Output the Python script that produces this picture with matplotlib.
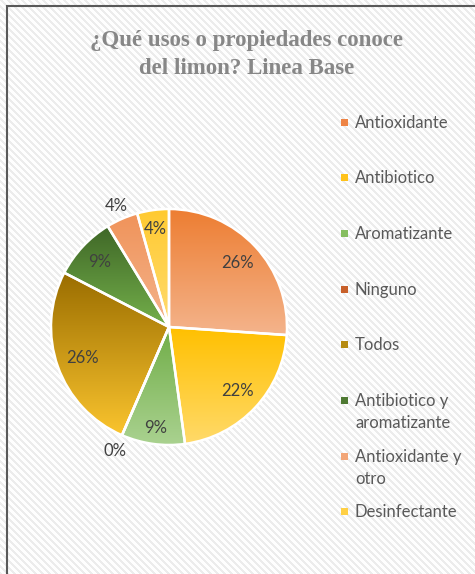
import numpy as np
import matplotlib
matplotlib.use("Agg")
import matplotlib.pyplot as plt
from matplotlib.colors import LinearSegmentedColormap
from matplotlib.patches import Rectangle

# ---------------- data ----------------
title_lines = ["¿Qué usos o propiedades conoce", "del limon? Linea Base"]
categories = ["Antioxidante", "Antibiotico", "Aromatizante", "Ninguno", "Todos",
              "Antibiotico y\naromatizante", "Antioxidante y\notro", "Desinfectante"]
counts = [6, 5, 2, 0, 6, 2, 1, 1]

# ---------------- style ----------------
grad_top = ["#ED7D31", "#FFC000", "#70AD47", "#C55A11", "#9A6D00", "#3F6727", "#F0935A", "#FFCA30"]
grad_bottom = ["#F4B48C", "#FFDA6A", "#AAD290", "#E59A66", "#FAC42E", "#74B04B", "#F4B48C", "#FFDB70"]
legend_colors = ["#EE8445", "#FFC21A", "#86BE60", "#C8602A", "#B58A10", "#4F7A33", "#F2A577", "#FFD045"]
label_r = [0.79, 0.80, 0.86, 1.15, 0.78, 0.81, 1.12, 0.84]

W, H = 475, 574
fig = plt.figure(figsize=(W / 100, H / 100), dpi=100)

# background with diagonal stripes
bg = fig.add_axes([0, 0, 1, 1])
yy, xx = np.mgrid[0:H, 0:W]
img = np.where(((xx - yy) % 7) < 3, 0.925, 0.995)
bg.imshow(img, cmap="gray", vmin=0, vmax=1, extent=[0, W, H, 0], aspect="auto",
          interpolation="nearest")
bg.set_xlim(0, W)
bg.set_ylim(H, 0)
bg.axis("off")
bg.plot([7, 7], [5, H], color="#595959", lw=1.5, solid_capstyle="butt")
bg.plot([7, W], [5.5, 5.5], color="#595959", lw=1.5, solid_capstyle="butt")

# title
for k, line in enumerate(title_lines):
    bg.text(247, 46 + 28 * k, line, ha="center", va="baseline", fontsize=16.5,
            fontweight="bold", family="Liberation Serif", color="#878787")

# legend
for i, cat in enumerate(categories):
    yc = 122 + 55.7 * i
    bg.add_patch(Rectangle((340.5, yc - 3.5), 7, 7, facecolor=legend_colors[i],
                           edgecolor="none"))
    for j, part in enumerate(cat.split("\n")):
        bg.text(355, yc + 5.5 + 22 * j, part, ha="left", va="baseline", fontsize=12,
                family="Lato", color="#595959")

# pie
R_px = 118
lim = 1.3
size = 2 * lim * R_px
cx, cy = 169, 327
ax = fig.add_axes([(cx - size / 2) / W, (H - cy - size / 2) / H, size / W, size / H])
wedges, _ = ax.pie(counts, startangle=90, counterclock=False, radius=1,
                   colors=grad_top,
                   wedgeprops=dict(edgecolor="white", linewidth=1.8))
total = sum(counts)
grad = np.linspace(0, 1, 256).reshape(-1, 1)
for i, w in enumerate(wedges):
    if counts[i] > 0:
        ang = np.radians(np.linspace(w.theta1, w.theta2, 200))
        xs = np.r_[0, np.cos(ang)]
        ys = np.r_[0, np.sin(ang)]
        cmap = LinearSegmentedColormap.from_list("g%d" % i, [grad_top[i], grad_bottom[i]])
        im = ax.imshow(grad, cmap=cmap, extent=[xs.min(), xs.max(), ys.min(), ys.max()],
                       origin="upper", aspect="auto", zorder=1)
        im.set_clip_path(w)
    w.set_facecolor("none")
    w.set_zorder(2)
    mid = np.radians((w.theta1 + w.theta2) / 2)
    pct = "%d%%" % round(100 * counts[i] / total)
    ax.text(label_r[i] * np.cos(mid), label_r[i] * np.sin(mid), pct, ha="center",
            va="center", fontsize=12, family="Lato", color="#404040", zorder=3)
ax.set_xlim(-lim, lim)
ax.set_ylim(-lim, lim)
ax.set_aspect("equal")
ax.axis("off")

fig.savefig("out.png", dpi=100)
